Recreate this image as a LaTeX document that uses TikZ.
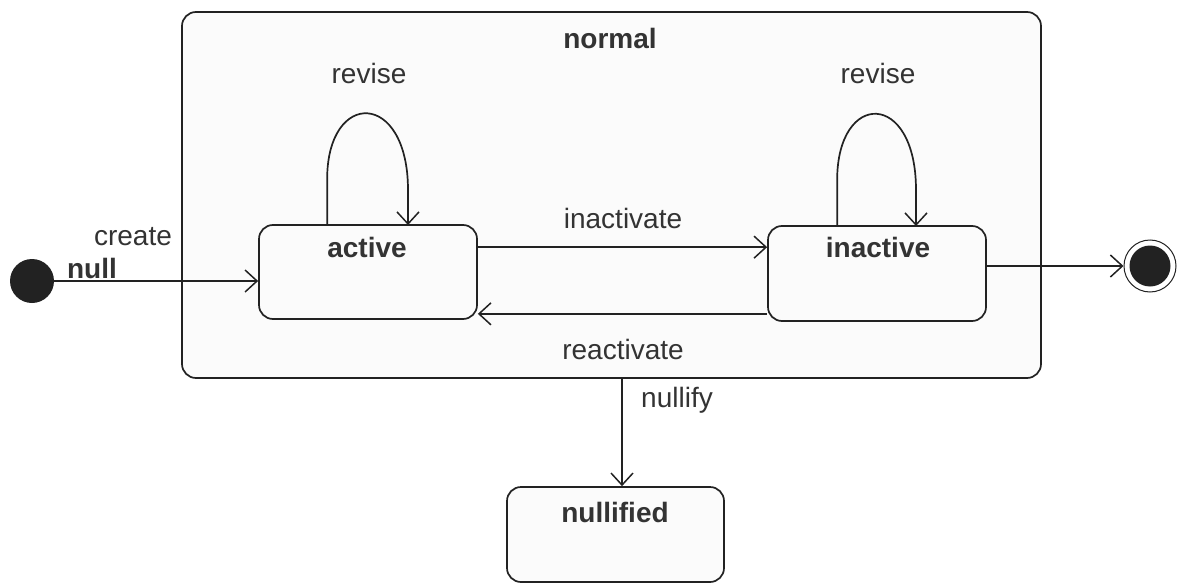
\documentclass[tikz,border=0pt]{standalone}
\usepackage{fontspec}
\setmainfont{Liberation Sans}
\usetikzlibrary{arrows.meta,calc}
\definecolor{ln}{HTML}{222222}
\definecolor{tx}{HTML}{333333}
\definecolor{boxfill}{HTML}{FBFBFB}
\tikzset{
  statebox/.style={draw=ln, line width=1.7pt, rounded corners=14pt, fill=boxfill, inner sep=0pt},
  lbl/.style={font=\fontsize{28}{31}\selectfont, text=tx, inner sep=0pt},
  blbl/.style={font=\fontsize{28}{31}\selectfont\bfseries, text=tx, inner sep=0pt},
  trans/.style={draw=ln, line width=1.7pt, -{Straight Barb[length=12pt,width=22pt,line width=1.5pt]}},
}
\begin{document}
\begin{tikzpicture}[x=1pt,y=-1pt]
\useasboundingbox (0,0) rectangle (1177,583);
% composite state
\node[statebox, minimum width=859pt, minimum height=366pt] (normal) at (611.5,195) {};
\node[blbl] (normalL) at (610,38) {normal};
% states
\node[statebox, minimum width=218pt, minimum height=94pt] (active) at (368,272) {};
\node[blbl] (activeL) at (367,247) {active};
\node[statebox, minimum width=218pt, minimum height=95pt] (inactive) at (877,273.5) {};
\node[blbl] (inactiveL) at (878,247) {inactive};
\node[statebox, minimum width=217pt, minimum height=95pt] (nullified) at (615.5,534.5) {};
\node[blbl] (nullifiedL) at (615,512) {nullified};
% pseudo states
\node[circle, fill=ln, minimum size=44pt, inner sep=0pt] (init) at (32,281) {};
\node[circle, draw=ln, line width=1pt, minimum size=52pt, inner sep=0pt] (final) at (1150,266) {};
\node[circle, fill=ln, minimum size=41pt, inner sep=0pt] (finalIn) at (1150,266) {};
% helper coordinates
\coordinate (ia) at ($(active.north east)+(0,23)$);
\coordinate (ra) at ($(inactive.south west)+(0,-8)$);
\coordinate (nf) at (622,0);
% transitions
\draw[trans] (init.east) -- (init.east -| active.west);
\node[lbl] (createL) at (133,237) {create};
\node[blbl] (nullL) at (92,268) {null};
\draw[trans] (ia) -- (ia -| inactive.west);
\node[lbl] (inactL) at (623,218) {inactivate};
\draw[trans] (ra) -- (ra -| active.east);
\node[lbl] (reactL) at (623,349) {reactivate};
\draw[trans] (inactive.east |- final.west) -- (final.west);
\draw[trans] (normal.south -| nf) -- (nullified.north -| nf);
\node[lbl] (nullifyL) at (677,400) {nullify};
% self loops
\draw[trans] ($(active.north west)+(69,0)$) -- ++(0,-45) .. controls ++(0,-90) and (408,90) .. (408,190) -- (408,225);
\node[lbl] (revise1) at (369,73) {revise};
\draw[trans] ($(inactive.north west)+(70,0)$) -- ++(0,-45) .. controls ++(0,-90) and (916,90) .. (916,190) -- (916,226);
\node[lbl] (revise2) at (878,73) {revise};
\end{tikzpicture}
\end{document}
